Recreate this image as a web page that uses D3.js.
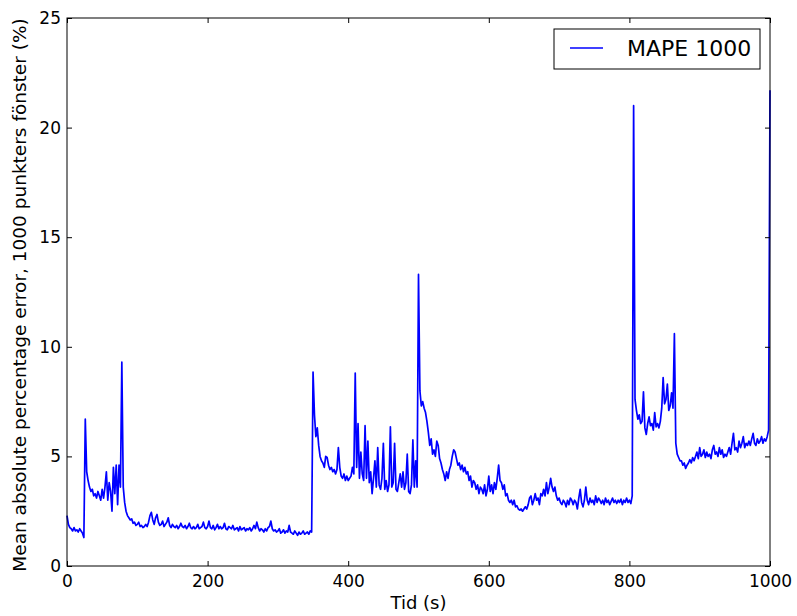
<!doctype html>
<html lang="sv">

<head>
    <meta charset="utf-8">
    <script src="https://d3js.org/d3.v7.min.js"></script>
    <title>MAPE 1000</title>
    <style>
        body {
            margin: 0;
            background: white;
        }

        text {
            font-family: "DejaVu Sans", sans-serif;
            fill: #000;
        }
    </style>
</head>

<body>
    <svg id="svg"></svg>

    <script>
        // series, one value every tStep seconds from 0 to 1000
        let tStep = 2;
        let mape = [
            2.3, 1.9, 1.75, 1.7, 1.6, 1.75, 1.6, 1.65, 1.55, 1.7,
            1.6, 1.5, 1.3, 6.7, 4.3, 3.9, 3.6, 3.4, 3.5, 3.2,
            3.3, 3.1, 3.4, 3.2, 3.0, 3.5, 3.1, 3.6, 4.3, 3.0,
            3.8, 3.4, 2.5, 4.5, 3.3, 4.6, 2.8, 4.6, 3.6, 9.3,
            3.6, 2.9, 2.5, 2.3, 2.2, 2.1, 2.15, 1.95, 2.0, 1.85,
            1.9, 2.0, 1.8, 1.85, 1.75, 1.8, 1.9, 1.8, 2.0, 2.3,
            2.45, 2.1, 1.9, 2.2, 2.35, 2.0, 1.85, 1.9, 2.05, 1.8,
            1.9, 2.0, 2.2, 1.85, 1.75, 1.9, 1.8, 1.75, 1.85, 1.7,
            1.8, 1.95, 1.8, 1.75, 1.85, 1.7, 1.8, 1.95, 1.75, 1.7,
            1.8, 1.7, 1.75, 1.9, 1.7, 1.75, 1.8, 2.0, 1.75, 1.7,
            1.8, 2.05, 1.75, 1.7, 1.85, 1.65, 1.75, 1.9, 1.7, 1.8,
            1.7, 1.75, 1.95, 1.7, 1.65, 1.8, 1.75, 1.7, 1.85, 1.65,
            1.7, 1.75, 1.6, 1.8, 1.65, 1.7, 1.75, 1.6, 1.7, 1.65,
            1.75, 1.6, 1.7, 1.85, 1.7, 2.0, 1.75, 1.6, 1.7, 1.65,
            1.55, 1.7, 1.6, 1.75, 1.8, 2.05, 1.7, 1.6, 1.65, 1.55,
            1.6, 1.7, 1.5, 1.55, 1.65, 1.5, 1.6, 1.55, 1.85, 1.55,
            1.5, 1.45, 1.6, 1.5, 1.4, 1.55, 1.45, 1.5, 1.6, 1.45,
            1.5, 1.55, 1.45, 1.6, 1.55, 8.85, 6.9, 5.9, 6.3, 5.5,
            5.0, 4.8, 4.7, 4.5, 5.0, 4.95, 4.6, 4.4, 4.5, 4.3,
            4.4, 4.2, 4.4, 5.4, 4.5, 4.1, 4.0, 4.2, 3.9, 4.1,
            3.9, 4.0, 4.1, 4.5, 4.2, 8.8, 4.5, 6.5, 4.0, 5.2,
            4.2, 3.9, 6.4, 4.0, 5.7, 3.8, 4.3, 3.3, 4.0, 4.8,
            3.6, 5.4, 3.7, 3.5, 4.0, 5.6, 3.5, 3.9, 3.4, 3.7,
            6.35, 3.6, 3.8, 5.6, 3.5, 3.4, 3.8, 4.2, 3.6, 4.3,
            3.5, 3.8, 5.1, 3.4, 3.3, 3.7, 5.75, 3.6, 4.8, 3.6,
            13.3, 8.0, 7.3, 7.5, 7.2, 7.0, 6.6, 6.1, 5.5, 5.8,
            5.1, 5.3, 5.0, 5.7, 5.5, 4.9, 4.7, 4.4, 4.2, 3.9,
            4.3, 4.0, 4.4, 4.6, 5.0, 5.3, 5.2, 4.9, 4.6, 4.7,
            4.4, 4.6, 4.3, 4.5, 4.2, 4.3, 3.9, 4.1, 3.6, 3.9,
            3.8, 3.5, 3.7, 3.3, 3.6, 3.5, 3.3, 3.7, 3.2, 3.5,
            4.1, 3.4, 3.7, 3.3, 3.8, 3.5, 4.0, 4.6, 3.9, 3.8,
            3.5, 3.7, 3.2, 3.3, 3.0, 2.9, 3.0, 2.8, 3.0, 2.7,
            2.75, 2.6, 2.55, 2.6, 2.5, 2.6, 2.7, 2.6, 2.8, 3.1,
            3.2, 2.8, 3.0, 3.3, 3.0, 3.1, 2.8, 3.3, 3.2, 3.5,
            3.2, 3.8, 3.3, 3.6, 4.0, 3.6, 3.4, 3.6, 3.2, 3.0,
            3.1, 2.9, 2.8, 3.0, 2.9, 2.7, 3.0, 2.8, 3.1, 3.0,
            2.8, 3.0, 2.9, 2.6, 3.1, 3.5, 2.9, 2.7, 3.0, 3.6,
            3.0, 2.8, 3.1, 2.9, 3.0, 2.8, 3.2, 2.9, 3.1, 3.0,
            2.85, 3.0, 2.8, 3.1, 2.9, 3.0, 2.8, 2.95, 3.1, 2.9,
            3.0, 2.85, 3.0, 2.9, 3.05, 2.8, 3.0, 2.9, 3.1, 2.9,
            3.0, 2.85, 3.2, 21.0, 7.6, 7.1, 6.7, 6.9, 6.5, 6.6,
            7.95, 6.3, 6.0, 6.5, 6.8, 6.4, 6.5, 6.2, 7.0, 6.35,
            6.5, 6.3, 6.6, 7.2, 8.6, 7.4, 7.6, 8.3, 7.1, 7.3,
            7.9, 7.2, 10.6, 5.6, 5.1, 4.95, 4.8, 4.8, 4.6, 4.7,
            4.45, 4.6, 4.7, 4.85, 4.7, 4.95, 4.8, 5.0, 5.2, 4.9,
            5.4, 5.0, 5.1, 5.3, 4.95, 5.2, 5.0, 5.1, 4.9, 5.3,
            5.5, 5.1, 5.2, 5.0, 5.4, 5.1, 5.3, 4.95, 5.1, 5.0,
            5.2, 5.4, 5.1, 5.6, 6.05, 5.3, 5.4, 5.2, 5.7, 5.4,
            5.6, 5.9, 5.4, 5.6, 5.5, 5.7, 5.5, 5.8, 6.05, 5.6,
            5.5, 5.8, 5.6, 5.7, 5.9, 5.6, 5.8, 5.7, 5.9, 6.2,
            21.7
        ];

        let xTicks = [0, 200, 400, 600, 800, 1000];
        let yTicks = [0, 5, 10, 15, 20, 25];
        let seriesName = "MAPE 1000";
        let xLabel = "Tid (s)";
        let yLabel = "Mean absolute percentage error, 1000 punkters fönster (%)";

        let width = 797, height = 616;
        let margin = { top: 18, right: 27, bottom: 50, left: 67 };
        let w = width - margin.left - margin.right;
        let h = height - margin.top - margin.bottom;

        let data = mape.map((v, i) => ({ t: i * tStep, v: v }));

        let svg = d3.select("#svg").attr("width", width).attr("height", height);
        let plot = svg.append("g").attr("transform", `translate(${margin.left}, ${margin.top})`);

        let xScale = d3.scaleLinear().domain([0, 1000]).range([0, w]);
        let yScale = d3.scaleLinear().domain([0, 25]).range([h, 0]);

        // the series
        plot.append("path")
            .datum(data)
            .attr("fill", "none")
            .attr("stroke", "#0000ff")
            .attr("stroke-width", 1.7)
            .attr("stroke-linejoin", "round")
            .attr("d", d3.line().x(d => xScale(d.t)).y(d => yScale(d.v)));

        // axes, ticks pointing inward on all four sides
        function styleAxis(g, showText) {
            g.select(".domain").remove();
            g.selectAll(".tick line").attr("stroke", "#000");
            g.selectAll("text").attr("font-size", 17).attr("fill", "#000");
            if (!showText) g.selectAll("text").remove();
        }

        plot.append("g")
            .attr("transform", `translate(0, ${h})`)
            .call(d3.axisBottom(xScale).tickValues(xTicks).tickFormat(d3.format("d"))
                .tickSizeInner(-5).tickSizeOuter(0).tickPadding(9))
            .call(g => styleAxis(g, true));

        plot.append("g")
            .call(d3.axisTop(xScale).tickValues(xTicks).tickSizeInner(-5).tickSizeOuter(0))
            .call(g => styleAxis(g, false));

        plot.append("g")
            .call(d3.axisLeft(yScale).tickValues(yTicks).tickFormat(d3.format("d"))
                .tickSizeInner(-5).tickSizeOuter(0).tickPadding(6))
            .call(g => styleAxis(g, true));

        plot.append("g")
            .attr("transform", `translate(${w}, 0)`)
            .call(d3.axisRight(yScale).tickValues(yTicks).tickSizeInner(-5).tickSizeOuter(0))
            .call(g => styleAxis(g, false));

        // frame
        plot.append("rect")
            .attr("width", w)
            .attr("height", h)
            .attr("fill", "none")
            .attr("stroke", "#000")
            .attr("stroke-width", 1);

        // axis labels
        svg.append("text")
            .attr("x", margin.left + w / 2)
            .attr("y", 609)
            .attr("text-anchor", "middle")
            .attr("font-size", 18)
            .text(xLabel);

        svg.append("text")
            .attr("transform", `translate(26, ${margin.top + h / 2 + 3}) rotate(-90)`)
            .attr("text-anchor", "middle")
            .attr("font-size", 18.5)
            .text(yLabel);

        // legend
        let legend = svg.append("g").attr("transform", "translate(554, 29)");
        legend.append("rect")
            .attr("width", 206)
            .attr("height", 40)
            .attr("fill", "white")
            .attr("stroke", "#000")
            .attr("stroke-width", 1);
        legend.append("line")
            .attr("x1", 16).attr("x2", 49)
            .attr("y1", 19).attr("y2", 19)
            .attr("stroke", "#0000ff")
            .attr("stroke-width", 1.3);
        legend.append("text")
            .attr("x", 73)
            .attr("y", 27)
            .attr("font-size", 22)
            .text(seriesName);
    </script>
</body>

</html>
